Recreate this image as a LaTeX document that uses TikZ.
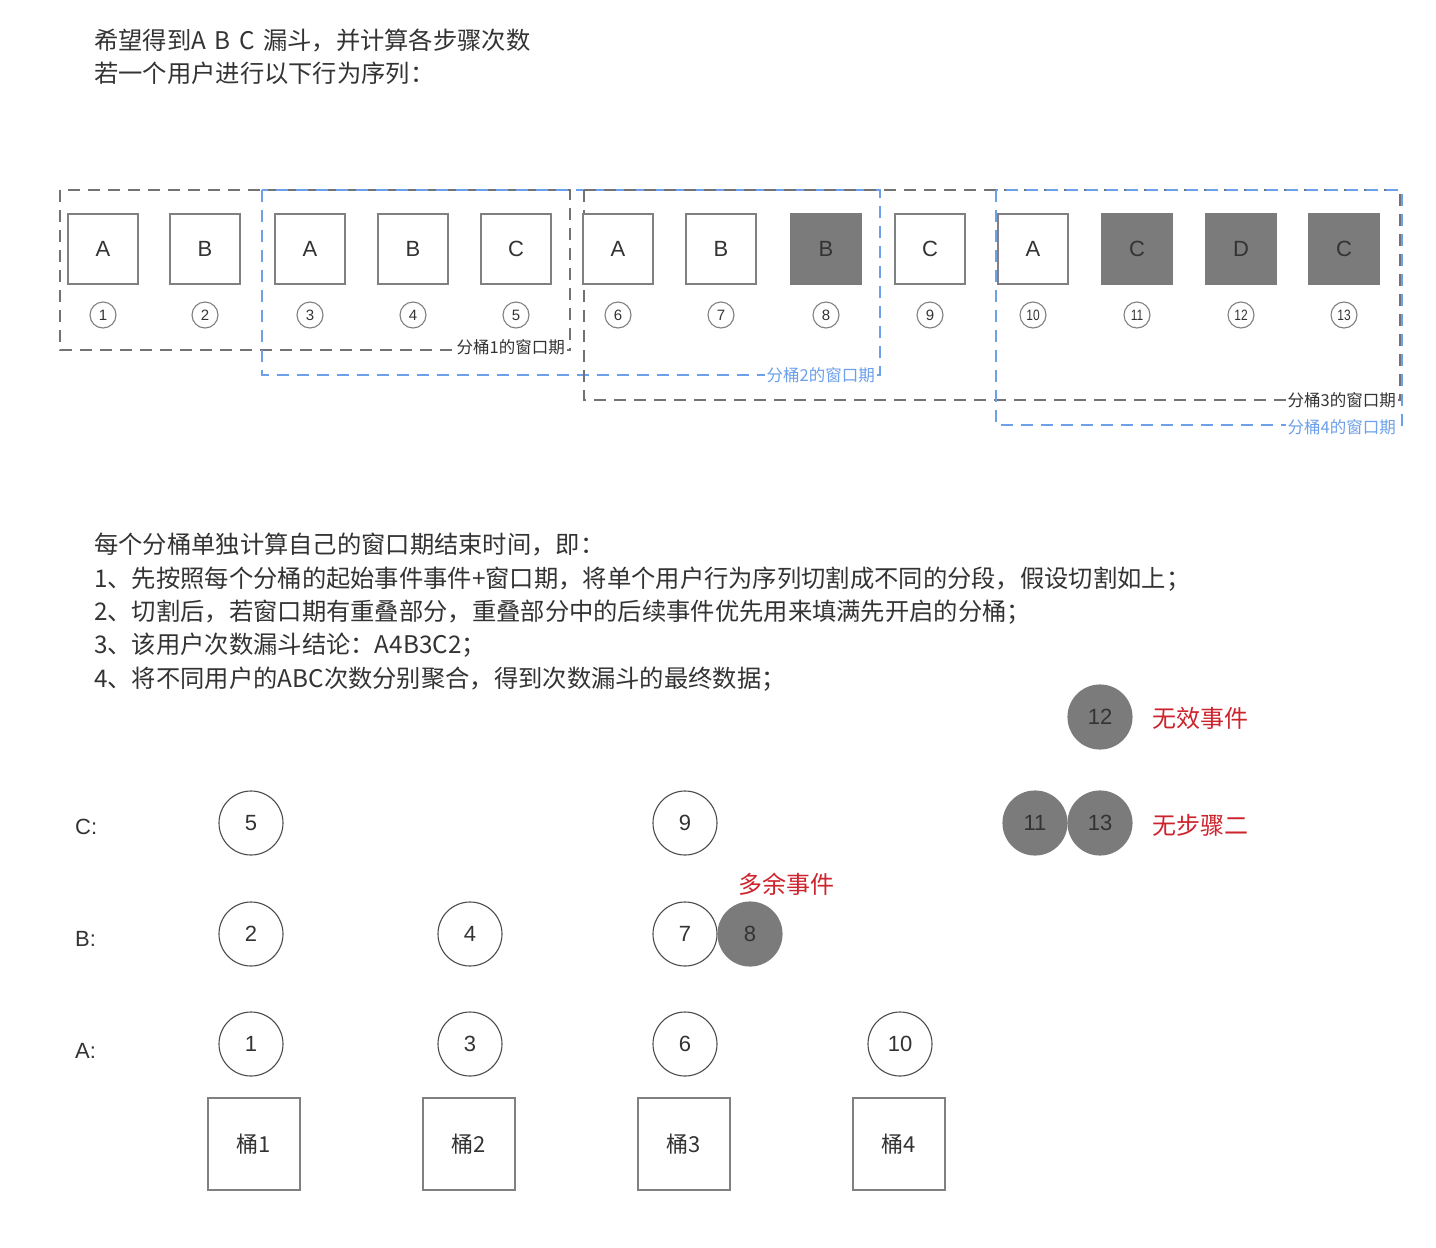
\documentclass[tikz,border=0pt]{standalone}
\usepackage{fontspec}
\setmainfont{Noto Sans CJK SC}
\newfontfamily\lat{Liberation Sans}
\definecolor{txt}{RGB}{51,51,51}
\definecolor{boxline}{RGB}{128,128,128}
\definecolor{dgray}{RGB}{123,123,123}
\definecolor{wblue}{RGB}{108,160,235}
\definecolor{wgray}{RGB}{115,115,115}
\definecolor{redl}{RGB}{205,35,45}
\begin{document}
\begin{tikzpicture}[x=1pt,y=-1pt,
  ev/.style={draw=boxline, line width=1.4pt, minimum size=70pt, inner sep=0pt, fill=white,
    font=\lat\fontsize{22}{26}\selectfont, text=txt},
  evx/.style={ev, fill=dgray, draw=dgray},
  num/.style={circle, draw=boxline, line width=1.1pt, minimum size=26pt, inner sep=0pt,
    font=\lat\fontsize{15}{17}\selectfont, text=txt},
  win/.style={line width=1.5pt, dash pattern=on 12pt off 8pt},
  wg/.style={win, draw=wgray},
  wb/.style={win, draw=wblue},
  wlab/.style={fill=white, inner xsep=2pt, inner ysep=1pt, anchor=east,
    font=\fontsize{16.5}{19}\selectfont},
  bc/.style={circle, draw=black!70, line width=1.1pt, minimum size=64pt, inner sep=0pt,
    fill=white, font=\lat\fontsize{22}{26}\selectfont, text=txt},
  bcx/.style={bc, fill=dgray, draw=dgray},
  bucket/.style={draw=boxline, line width=1.4pt, minimum width=92pt, minimum height=92pt,
    inner sep=0pt, font=\fontsize{22}{26}\selectfont, text=txt},
  para/.style={anchor=west, inner sep=0pt, text=txt, font=\fontsize{24.3}{28}\selectfont},
  rowlab/.style={anchor=west, inner sep=0pt, text=txt, font=\lat\fontsize{22}{26}\selectfont},
  redlab/.style={anchor=west, inner sep=0pt, text=redl, font=\fontsize{24}{28}\selectfont}
]
\useasboundingbox (0,0) rectangle (1436,1248);

% header text
\node[para] (t1) at (94,40) {希望得到A\hspace{0.35em}B\hspace{0.35em}C\hspace{0.35em}漏斗，并计算各步骤次数};
\node[para] (t2) at (94,73) {若一个用户进行以下行为序列：};

% window rectangles
\draw[wg] (60,190) rectangle (570,350);
\draw[wb] (262,190) rectangle (880,375);
\draw[wg] (584,190) rectangle (1400,400);
\draw[wb] (996,190) rectangle (1402,425);

% event boxes
\foreach \i/\x/\t/\s in {1/103/A/ev,2/205/B/ev,3/310/A/ev,4/413/B/ev,5/516/C/ev,
  6/618/A/ev,7/721/B/ev,8/826/B/evx,9/930/C/ev,10/1033/A/ev,11/1137/C/evx,
  12/1241/D/evx,13/1344/C/evx}{
  \node[\s] (e\i) at (\x,249) {\t};
  \node[num] (n\i) at (\x,315) {\ifnum\i>9 \scalebox{0.8}[1]{\i}\else\i\fi};
}

% window labels
\node[wlab, text=txt] (w1) at (567,347) {分桶1的窗口期};
\node[wlab, text=wblue] (w2) at (877,375) {分桶2的窗口期};
\node[wlab, text=txt] (w3) at (1398,400) {分桶3的窗口期};
\node[wlab, text=wblue] (w4) at (1398,427) {分桶4的窗口期};

% explanation
\node[para] (p0) at (94,545) {每个分桶单独计算自己的窗口期结束时间，即：};
\node[para] (p1) at (94,579) {1、先按照每个分桶的起始事件事件+窗口期，将单个用户行为序列切割成不同的分段，假设切割如上；};
\node[para] (p2) at (94,612) {2、切割后，若窗口期有重叠部分，重叠部分中的后续事件优先用来填满先开启的分桶；};
\node[para] (p3) at (94,645) {3、该用户次数漏斗结论：A4B3C2；};
\node[para] (p4) at (94,679) {4、将不同用户的ABC次数分别聚合，得到次数漏斗的最终数据；};

% row labels
\node[rowlab] (rc) at (75,827) {C:};
\node[rowlab] (rb) at (75,939) {B:};
\node[rowlab] (ra) at (75,1051) {A:};

% circles
\node[bc] (c5) at (251,823) {5};
\node[bc] (c9) at (685,823) {9};
\node[bc] (c2) at (251,934) {2};
\node[bc] (c4) at (470,934) {4};
\node[bc] (c7) at (685,934) {7};
\node[bcx] (c8) at (750,934) {8};
\node[bc] (c1) at (251,1044) {1};
\node[bc] (c3) at (470,1044) {3};
\node[bc] (c6) at (685,1044) {6};
\node[bc] (c10) at (900,1044) {10};
\node[bcx] (c12) at (1100,717) {12};
\node[bcx] (c11) at (1035,823) {11};
\node[bcx] (c13) at (1100,823) {13};

\node[redlab] (r1) at (1152,718) {无效事件};
\node[redlab] (r2) at (1152,825) {无步骤二};
\node[redlab] (r3) at (738,884) {多余事件};

% buckets
\node[bucket] (b1) at (254,1144) {桶1};
\node[bucket] (b2) at (469,1144) {桶2};
\node[bucket] (b3) at (684,1144) {桶3};
\node[bucket] (b4) at (899,1144) {桶4};
\end{tikzpicture}
\end{document}
